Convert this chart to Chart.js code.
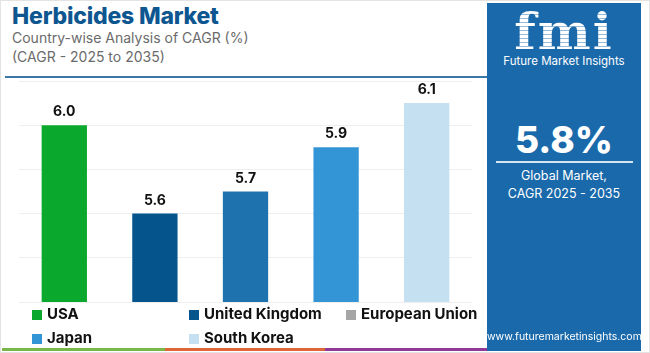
<!DOCTYPE html>
<html>
<head>
<meta charset="utf-8">
<script src="https://cdn.jsdelivr.net/npm/chart.js@4.4.1/dist/chart.umd.min.js"></script>
<style>
  html, body { margin: 0; padding: 0; }
  body { width: 650px; height: 353px; position: relative; overflow: hidden; background: #fff;
         font-family: Inter, "Open Sans", sans-serif; }
  #frame { position: absolute; left: 0; top: 0; width: 648px; height: 351px; border: 1px solid #e3e3e3; }
  #title { position: absolute; left: 12px; top: 2px; font-size: 23px; font-weight: 800; color: #0d5690; letter-spacing: -0.2px; }
  .sub { position: absolute; left: 12px; font-size: 14px; color: #6b6b6b; }
  #rule { position: absolute; left: 5px; top: 76px; width: 482px; height: 2px; background: #3a78a8; }
  #chartBox { position: absolute; left: 15px; top: 75px; width: 465px; height: 232px; }
  #legend { position: absolute; left: 0; top: 297px; width: 487px; height: 48px; }
  .item { position: absolute; font-size: 15px; font-weight: 700; color: #111; line-height: 18px; white-space: nowrap; }
  .item i { display: inline-block; width: 10px; height: 10px; margin-right: 5px; vertical-align: -1px; }
  #panel { position: absolute; left: 487px; top: 3px; width: 154px; height: 348px; background: #1a6aab; color: #fff; text-align: center; }
  #logo { position: absolute; left: 0; width: 154px; top: 4px; font-family: "DejaVu Serif", serif; font-weight: 700; font-size: 50px; line-height: 50px;
          background: repeating-linear-gradient(180deg, #fff 0 3px, rgba(255,255,255,0.55) 3px 4px);
          -webkit-background-clip: text; background-clip: text; color: transparent; letter-spacing: 2px; }
  #logoTxt { position: absolute; left: 0; width: 154px; top: 51px; font-size: 11.5px; color: #fff; }
  #big { position: absolute; left: 0; width: 154px; top: 114px; font-size: 37px; font-weight: 800; }
  #pline { position: absolute; left: 9px; top: 158px; width: 137px; height: 2px; background: #d8e6f2; }
  #pt1 { position: absolute; left: 0; width: 154px; top: 164px; font-size: 12.5px; line-height: 18px; }
  #url { position: absolute; left: 0; width: 154px; top: 327px; font-size: 10.5px; }
  .strip { position: absolute; top: 348px; height: 3px; }
</style>
</head>
<body>
<div id="frame"></div>
<div id="title">Herbicides Market</div>
<div class="sub" style="top:29px">Country-wise Analysis of CAGR (%)</div>
<div class="sub" style="top:48px">(CAGR - 2025 to 2035)</div>
<div id="rule"></div>
<div id="chartBox"><canvas id="chart"></canvas></div>
<div id="legend"></div>
<div id="panel">
  <div id="logo">fmi</div>
  <div id="logoTxt">Future Market Insights</div>
  <div id="big">5.8%</div>
  <div id="pline"></div>
  <div id="pt1">Global Market,<br>CAGR 2025 - 2035</div>
  <div id="url">www.futuremarketinsights.com</div>
</div>
<div class="strip" style="left:2px;width:163px;background:#7ab648"></div>
<div class="strip" style="left:165px;width:160px;background:#e0663a"></div>
<div class="strip" style="left:325px;width:162px;background:#8e3a96"></div>
<script>
var countries = ["USA", "United Kingdom", "European Union", "Japan", "South Korea"];
var cagrValues = [6.0, 5.6, 5.7, 5.9, 6.1];
var barColors = ["#0aa82c", "#06548c", "#1e72ae", "#3395d6", "#c4e0f1"];
var legendColors = ["#0aa82c", "#06548c", "#a6a6a6", "#3395d6", "#c4e0f1"];
var yTicks = [5.2, 5.4, 5.6, 5.8, 6.0, 6.2];

// legend laid out in three columns, two rows
var legendPos = [[32, 8], [189, 8], [346, 8], [32, 32], [189, 32]];
var legend = document.getElementById("legend");
countries.forEach(function(name, i){
    var el = document.createElement("div");
    el.className = "item";
    el.style.left = legendPos[i][0] + "px";
    el.style.top = legendPos[i][1] + "px";
    el.innerHTML = '<i style="background:' + legendColors[i] + '"></i>' + name;
    legend.appendChild(el);
});

var valueLabels = {
    id: "valueLabels",
    afterDatasetsDraw: function(chart){
        var ctx = chart.ctx;
        var meta = chart.getDatasetMeta(0);
        ctx.save();
        ctx.font = "bold 14px Inter, sans-serif";
        ctx.fillStyle = "#111";
        ctx.textAlign = "center";
        ctx.textBaseline = "alphabetic";
        meta.data.forEach(function(bar, i){
            ctx.fillText(cagrValues[i].toFixed(1), bar.x, bar.y - 9);
        });
        ctx.restore();
    }
};

new Chart(document.getElementById("chart"), {
    type: "bar",
    data: {
        labels: countries,
        datasets: [{
            data: cagrValues,
            backgroundColor: barColors,
            categoryPercentage: 1,
            barPercentage: 0.5
        }]
    },
    options: {
        responsive: true,
        maintainAspectRatio: false,
        animation: false,
        layout: { padding: { left: 4, right: 8, top: 6, bottom: 5 } },
        plugins: { legend: { display: false }, tooltip: { enabled: false } },
        scales: {
            x: { display: false },
            y: {
                min: yTicks[0],
                max: yTicks[yTicks.length - 1],
                afterBuildTicks: function(axis){
                    axis.ticks = yTicks.map(function(v){ return { value: v }; });
                },
                grid: { color: "#eeeeee", lineWidth: 1, drawTicks: false },
                border: { display: false },
                ticks: { display: false }
            }
        }
    },
    plugins: [valueLabels]
});
</script>
</body>
</html>
